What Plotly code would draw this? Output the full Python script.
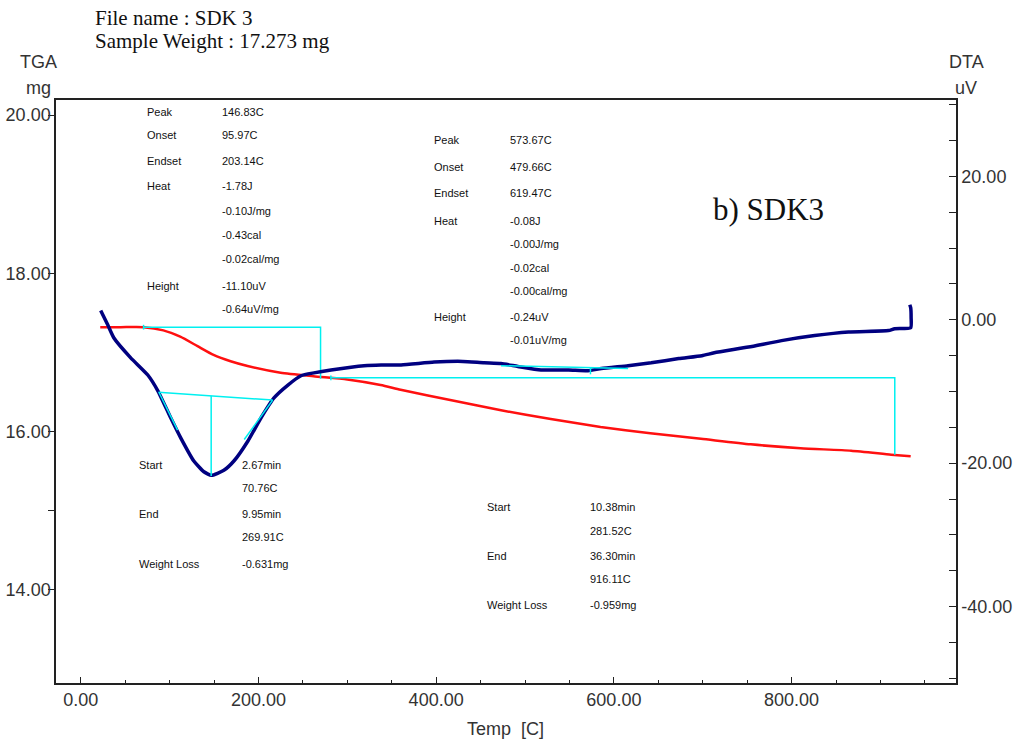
import plotly.graph_objects as go

# ---------------- data ----------------
# TGA curve (red): temperature [C] vs weight [mg]
tga_temp = [22, 45, 70.7, 93, 112, 131.5, 149.5, 168.7, 187.8, 225, 262, 300, 337.5,
            360, 420, 473, 529, 585, 641, 698, 754, 810, 867, 912, 934]
tga_mg = [17.32, 17.32, 17.32, 17.28, 17.20, 17.08, 16.97, 16.89, 16.83, 16.745, 16.70,
          16.66, 16.59, 16.53, 16.39, 16.27, 16.16, 16.06, 15.98, 15.91, 15.84, 15.79,
          15.76, 15.71, 15.69]

# DTA curve (navy): temperature [C] vs signal [uV]
dta_temp = [22.5, 30.4, 37.2, 56.3, 75.5, 86.8, 101.4, 112.7, 127.3, 138.6, 147, 161.1,
            172.4, 188.2, 202.8, 217.5, 233.2, 247.9, 262.5, 281.7, 318.9, 338, 360.6,
            397.7, 430, 454, 473, 492, 518, 549, 571, 586, 616, 642, 673, 699, 713,
            751.5, 788.7, 826, 864, 909, 916, 934, 934.5, 934, 933]
dta_uv = [1.3, -0.7, -2.5, -5.3, -7.7, -9.9, -13.7, -16.5, -19.7, -21.2, -21.7, -21.0,
          -19.7, -16.9, -13.7, -10.9, -9.1, -7.8, -7.4, -7.0, -6.4, -6.3, -6.3, -5.9,
          -5.8, -6.0, -6.1, -6.5, -7.0, -7.0, -7.1, -6.8, -6.4, -6.0, -5.4, -5.0, -4.6,
          -3.8, -2.9, -2.2, -1.7, -1.5, -1.25, -1.1, 0.3, 1.7, 2.1]

# TGA step analysis (cyan), from Start / End / Weight Loss readouts
tga_step1_t = [70.76, 269.91, 269.91]
tga_step1_mg = [17.32, 17.32, 16.67]
tga_step2_t = [281.52, 916.11, 916.11]
tga_step2_mg = [16.68, 16.68, 15.71]
tga_mark_t = [70.76, 281.52]
tga_mark_mg = [17.32, 16.68]

# DTA peak analysis (cyan)
dta_base1_t = [87.5, 216.0]
dta_base1_uv = [-10.1, -11.2]
dta_peak1_t = [146.83, 146.83]
dta_peak1_uv = [-10.6, -21.8]
dta_tan1_t = [88.0, 109.0]
dta_tan1_uv = [-10.1, -15.4]
dta_tan2_t = [216.0, 184.0]
dta_tan2_uv = [-11.2, -16.7]
dta_base2_t = [473.0, 616.0]
dta_base2_uv = [-6.4, -6.8]
dta_peak2_t = [573.67, 573.67]
dta_peak2_uv = [-6.6, -7.6]

x_ticks = [0, 200, 400, 600, 800]
x_ticktext = ["0.00", "200.00", "400.00", "600.00", "800.00"]
x_minor = [50, 100, 150, 250, 300, 350, 450, 500, 550, 650, 700, 750, 850, 900, 950]
tga_ticks = [14, 16, 18, 20]
tga_ticktext = ["14.00", "16.00", "18.00", "20.00"]
tga_minor = [15]
dta_ticks = [-40, -20, 0, 20]
dta_ticktext = ["-40.00", "-20.00", "0.00", "20.00"]
dta_minor = [-50, -45, -35, -30, -25, -15, -10, -5, 5, 10, 15, 25, 30]

block1_labels = ["Peak", "Onset", "Endset", "Heat", "", "", "", "Height", ""]
block1_values = ["146.83C", "95.97C", "203.14C", "-1.78J", "-0.10J/mg", "-0.43cal",
                 "-0.02cal/mg", "-11.10uV", "-0.64uV/mg"]
block2_labels = ["Peak", "Onset", "Endset", "Heat", "", "", "", "Height", ""]
block2_values = ["573.67C", "479.66C", "619.47C", "-0.08J", "-0.00J/mg", "-0.02cal",
                 "-0.00cal/mg", "-0.24uV", "-0.01uV/mg"]
block3_labels = ["Start", "", "End", "", "Weight Loss"]
block3_values = ["2.67min", "70.76C", "9.95min", "269.91C", "-0.631mg"]
block4_labels = ["Start", "", "End", "", "Weight Loss"]
block4_values = ["10.38min", "281.52C", "36.30min", "916.11C", "-0.959mg"]

# ---------------- figure ----------------
L, R, T, B = 56, 956, 100, 683
W, H = 1023, 747


def px(xp):
    return (xp - L) / (R - L)


def py(yp):
    return (B - yp) / (B - T)


AX = "#222222"
TICKFONT = dict(family="Liberation Sans, Arial, sans-serif", size=18, color="#333333")
SMALL = dict(family="Liberation Sans, Arial, sans-serif", size=11, color="#111111")
SERIF = "Liberation Serif, Times New Roman, serif"
CYAN = "#00f0f0"

fig = go.Figure()
fig.add_trace(go.Scatter(x=tga_temp, y=tga_mg, mode="lines",
                         line=dict(color="#ff1010", width=2.5, shape="spline", smoothing=0.6),
                         yaxis="y"))
fig.add_trace(go.Scatter(x=dta_temp, y=dta_uv, mode="lines",
                         line=dict(color="#000080", width=3.5, shape="spline", smoothing=0.5),
                         yaxis="y2"))

for xs, ys in [(tga_step1_t, tga_step1_mg), (tga_step2_t, tga_step2_mg)]:
    fig.add_trace(go.Scatter(x=xs, y=ys, mode="lines", line=dict(color=CYAN, width=1.5), yaxis="y"))
for xm, ym in zip(tga_mark_t, tga_mark_mg):
    fig.add_trace(go.Scatter(x=[xm, xm], y=[ym - 0.03, ym + 0.03], mode="lines",
                             line=dict(color=CYAN, width=1.5), yaxis="y"))
for xs, ys in [(dta_base1_t, dta_base1_uv), (dta_peak1_t, dta_peak1_uv),
               (dta_tan1_t, dta_tan1_uv), (dta_tan2_t, dta_tan2_uv),
               (dta_base2_t, dta_base2_uv), (dta_peak2_t, dta_peak2_uv)]:
    fig.add_trace(go.Scatter(x=xs, y=ys, mode="lines", line=dict(color=CYAN, width=1.5), yaxis="y2"))

fig.update_layout(
    width=W, height=H,
    margin=dict(l=L, r=W - R, t=T, b=H - B, autoexpand=False),
    plot_bgcolor="white", paper_bgcolor="white", showlegend=False,
    xaxis=dict(range=[-27.8, 985], showline=True, linecolor=AX, linewidth=1.5, mirror=True,
               ticks="inside", ticklen=6, tickwidth=1, tickcolor=AX, automargin=False,
               tickvals=x_ticks, ticktext=x_ticktext, tickfont=TICKFONT,
               minor=dict(tickvals=x_minor, ticks="inside", ticklen=3, tickcolor=AX),
               showgrid=False, zeroline=False),
    yaxis=dict(range=[12.825, 20.19], showline=True, linecolor=AX, linewidth=1.5,
               ticks="outside", ticklen=6, tickcolor=AX, automargin=False,
               ticklabelstandoff=-6,
               tickvals=tga_ticks, ticktext=tga_ticktext, tickfont=TICKFONT,
               minor=dict(tickvals=tga_minor, ticks="outside", ticklen=6, tickcolor=AX),
               showgrid=False, zeroline=False),
    yaxis2=dict(range=[-50.67, 30.67], overlaying="y", side="right", showline=True,
                linecolor=AX, linewidth=1.5, ticks="inside", ticklen=7, tickcolor=AX,
                automargin=False,
                tickvals=dta_ticks, ticktext=dta_ticktext, tickfont=TICKFONT,
                minor=dict(tickvals=dta_minor, ticks="inside", ticklen=7, tickcolor=AX),
                showgrid=False, zeroline=False),
)

ann = []


def add(text, xp, yp, font, xanchor="left"):
    ann.append(dict(text=text, x=px(xp), y=py(yp), xref="paper", yref="paper",
                    xanchor=xanchor, yanchor="middle", showarrow=False, font=font))


add("File name : SDK 3", 93, 18, dict(family=SERIF, size=21, color="#111"))
add("Sample Weight : 17.273 mg", 93, 41, dict(family=SERIF, size=21, color="#111"))
add("TGA", 38, 62, TICKFONT, "center")
add("mg", 38, 88, TICKFONT, "center")
add("DTA", 966, 62, TICKFONT, "center")
add("uV", 966, 88, TICKFONT, "center")
add("Temp  [C]", 505, 729, TICKFONT, "center")
add("b) SDK3", 711, 209, dict(family=SERIF, size=31, color="#111"))

rows1 = [112, 135, 161, 186, 211, 235, 259, 286, 309]
rows2 = [140, 167, 193, 221, 244, 268, 291, 317, 340]
rows3 = [465, 488, 514, 537, 564]
rows4 = [507, 531, 556, 579, 605]
for labels, values, rows, xl, xv in [(block1_labels, block1_values, rows1, 145, 220),
                                     (block2_labels, block2_values, rows2, 432, 508),
                                     (block3_labels, block3_values, rows3, 137, 240),
                                     (block4_labels, block4_values, rows4, 485, 588)]:
    for lab, val, yv in zip(labels, values, rows):
        if lab:
            add(lab, xl, yv, SMALL)
        add(val, xv, yv, SMALL)

fig.update_layout(annotations=ann)
fig.write_html("out.html")
